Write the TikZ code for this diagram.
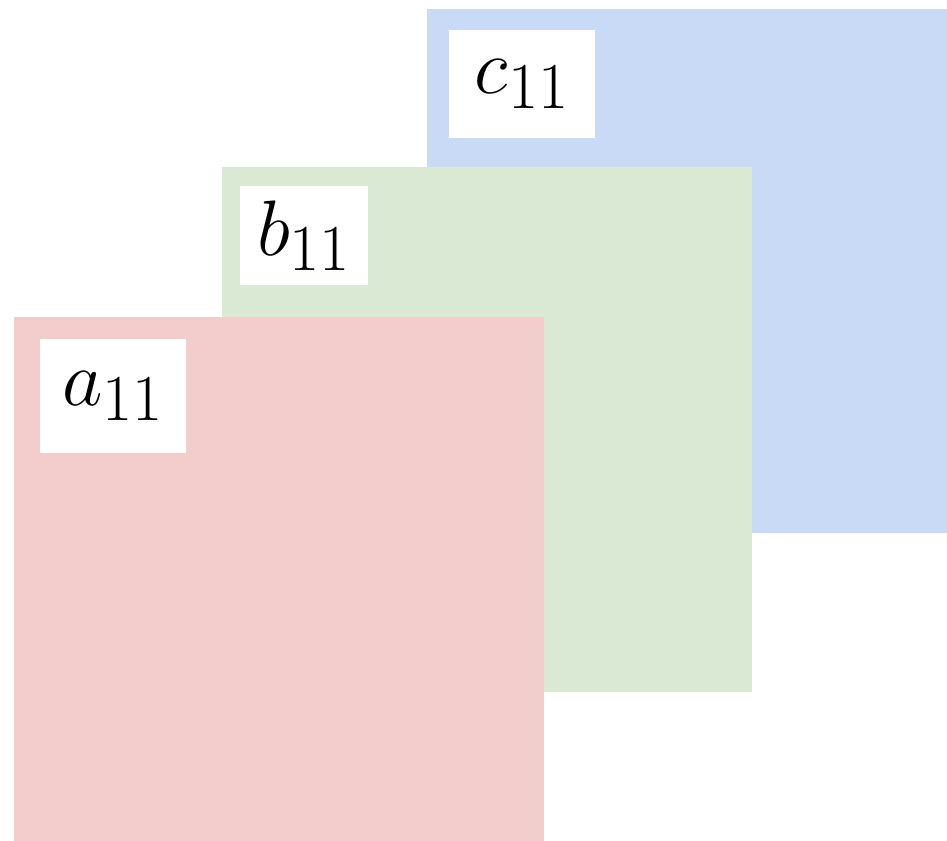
\documentclass[tikz,border=0pt]{standalone}
\usepackage{amsmath}
\usetikzlibrary{positioning}

\definecolor{sheetA}{HTML}{F3CCCC}
\definecolor{sheetB}{HTML}{D9E9D4}
\definecolor{sheetC}{HTML}{C9DAF6}

\newcommand{\bigentry}[1]{\scalebox{1.8}{\Huge$#1$}}

\tikzset{
    sheet/.style = {fill=#1, draw=none, anchor=north west, inner sep=0pt},
    tag/.style   = {fill=white, draw=none, anchor=north west, inner sep=0pt}
}

\begin{document}
\begin{tikzpicture}[x=0.02cm, y=-0.02cm]

        \useasboundingbox (0,0) rectangle (947,840);
        \clip (0,0) rectangle (947,840);

        % back sheet
        \node[sheet=sheetC, minimum width=10.6cm, minimum height=10.48cm] (C) at (427,9) {};
        \node[tag, minimum width=2.92cm, minimum height=2.16cm, below right=0.42cm and 0.44cm of C.north west, anchor=north west] (c11) {\bigentry{c_{11}}};

        % middle sheet
        \node[sheet=sheetB, minimum width=10.6cm, minimum height=10.5cm] (B) at (222,167) {};
        \node[tag, minimum width=2.56cm, minimum height=1.98cm, below right=0.38cm and 0.36cm of B.north west, anchor=north west] (b11) {\bigentry{b_{11}}};

        % front sheet
        \node[sheet=sheetA, minimum width=10.6cm, minimum height=10.8cm] (A) at (14,317) {};
        \node[tag, minimum width=2.92cm, minimum height=2.28cm, below right=0.44cm and 0.52cm of A.north west, anchor=north west] (a11) {\bigentry{a_{11}}};

\end{tikzpicture}
\end{document}
